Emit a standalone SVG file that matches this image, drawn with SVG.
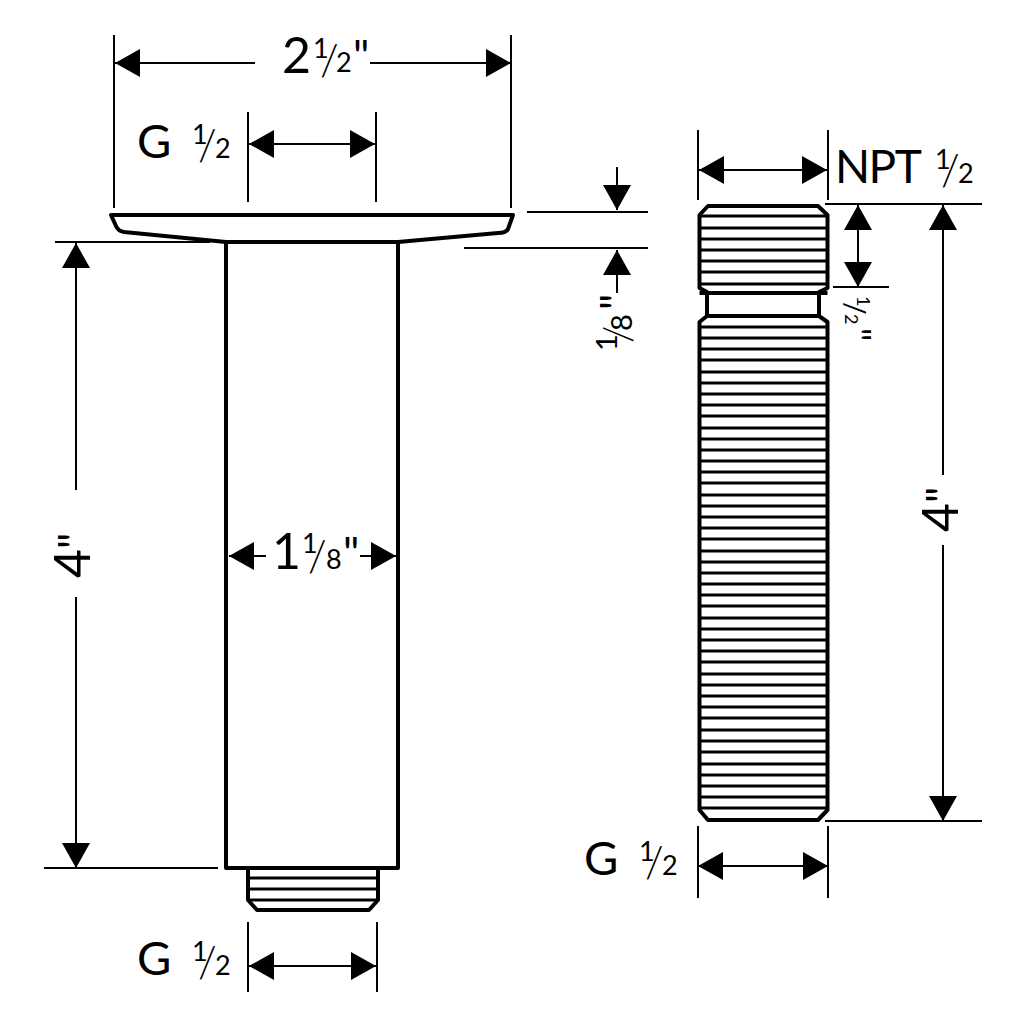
<svg xmlns="http://www.w3.org/2000/svg" width="1024" height="1024" viewBox="0 0 1024 1024">
<style>
.o{fill:none;stroke:#000;stroke-width:4;stroke-linejoin:round}
.t{fill:none;stroke:#000;stroke-width:3}
.d{fill:none;stroke:#000;stroke-width:2}
.a{marker-end:url(#ah)}
text{font-family:"Lato","Open Sans","Liberation Sans",sans-serif;fill:#000;font-weight:400}
.b{font-size:50px}
.m{font-size:47px}
.n{font-size:27px}
.l{font-size:43px;font-weight:300}
.q{font-size:44px}
</style>
<defs>
<marker id="ah" markerUnits="userSpaceOnUse" markerWidth="26" markerHeight="28" refX="25" refY="14" orient="auto"><path d="M0 0L25 14L0 28Z" fill="#000"/></marker>
</defs>
<rect width="1024" height="1024" fill="#fff"/>
<g id="arm">
<path class="o" d="M111 215H513L508 229Q506 233 498 233L398 242H226L124 232Q118 231 116 226Z"/>
<path class="o" d="M226 242V868H398V242"/>
<path class="o" d="M248 868V900L257 910H369L378 900V868"/>
<path class="t" d="M248 878H378M248 889H378M248 900H378"/>
</g>
<g id="nipple">
<path class="o" d="M708 206H818L827.500 215V288L819 292V316L827.500 322V810L818 820H708L699.500 810V322L707 316V292L699.500 288V215Z"/>
<path class="o" d="M699.500 293H827.500M707 316H819"/>
<path class="t" d="M699 216H828M699 228H828M699 239H828M699 250H828M699 261H828M699 272H828M699 284H828"/>
<path class="t" d="M699 327H828M699 338H828M699 349H828M699 360H828M699 372H828M699 383H828M699 394H828M699 405H828M699 416H828M699 428H828M699 439H828M699 450H828M699 461H828M699 472H828M699 483H828M699 495H828M699 506H828M699 517H828M699 528H828M699 539H828M699 551H828M699 562H828M699 573H828M699 584H828M699 595H828M699 606H828M699 618H828M699 629H828M699 640H828M699 651H828M699 662H828M699 674H828M699 685H828M699 696H828M699 707H828M699 718H828M699 730H828M699 741H828M699 752H828M699 764H828M699 775H828M699 786H828M699 797H828M699 808H828"/>
</g>
<g id="connectors">
<path class="d" d="M114 35V208M511 35V208M248 112V202M376 112V202M248 922V992M377 922V992M55 242H210M44 868H218M527 212H648M464 248H648M698 130V200M828 130V200M825 204H982M833 287H889M825 821H982M698 826V898M828 826V898"/>
<path class="d a" d="M255 63H115"/><path class="d a" d="M370 63H511"/>
<path class="d a" d="M312 144H249"/><path class="d a" d="M312 144H375"/>
<path class="d a" d="M312 966H249"/><path class="d a" d="M312 966H376"/>
<path class="d a" d="M76 490V243"/><path class="d a" d="M76 597V868"/>
<path class="d a" d="M266 556H229"/><path class="d a" d="M360 556H396"/>
<path class="d a" d="M617 167V210"/><path class="d a" d="M617 293V250"/>
<path class="d a" d="M763 170H699"/><path class="d a" d="M763 170H827"/>
<path class="d a" d="M858 245V205"/><path class="d a" d="M858 245V287"/>
<path class="d a" d="M943 475V205"/><path class="d a" d="M943 545V821"/>
<path class="d a" d="M763 866H698"/><path class="d a" d="M763 866H828"/>
</g>
<g id="labels">
<text class="b" x="282" y="73">2<tspan class="n" x="313" y="58">1</tspan><tspan class="l" x="320" y="75">/</tspan><tspan class="n" x="336" y="72">2</tspan><tspan class="q" x="353" y="72">"</tspan></text>
<text class="m" x="137" y="158">G<tspan class="n" x="192" y="144">1</tspan><tspan class="l" x="198" y="160">/</tspan><tspan class="n" x="215" y="158">2</tspan></text>
<text class="m" x="137" y="975">G<tspan class="n" x="192" y="961">1</tspan><tspan class="l" x="198" y="977">/</tspan><tspan class="n" x="215" y="975">2</tspan></text>
<text class="m" x="584" y="875">G<tspan class="n" x="639" y="861">1</tspan><tspan class="l" x="645" y="877">/</tspan><tspan class="n" x="662" y="875">2</tspan></text>
<text class="m" x="835" y="183" style="font-size:46px;letter-spacing:-1.500px">NPT<tspan class="n" x="935" y="169" style="letter-spacing:0">1</tspan><tspan class="l" x="941" y="185" style="letter-spacing:0">/</tspan><tspan class="n" x="958" y="183" style="letter-spacing:0">2</tspan></text>
<text class="b" x="272" y="569">1<tspan class="n" x="302" y="553">1</tspan><tspan class="l" x="308" y="571">/</tspan><tspan class="n" x="326" y="569">8</tspan><tspan class="q" x="343" y="569">"</tspan></text>
<text class="b" transform="translate(90 578) rotate(-90)">4<tspan class="q">"</tspan></text>
<text class="b" transform="translate(958 532) rotate(-90)">4<tspan class="q">"</tspan></text>
<text transform="translate(632 348) rotate(-90)" style="font-size:29px"><tspan x="-3" y="-15">1</tspan><tspan x="5" y="0" style="font-size:40px;font-weight:300">/</tspan><tspan x="17" y="0">8</tspan><tspan x="38" y="0" class="q">"</tspan></text>
<text transform="translate(845 298) rotate(90)" style="font-size:18px"><tspan x="-2" y="-12">1</tspan><tspan x="4" y="0" style="font-size:28px">/</tspan><tspan x="16" y="0">2</tspan><tspan x="30" y="0" style="font-size:36px">"</tspan></text>
</g>
</svg>
